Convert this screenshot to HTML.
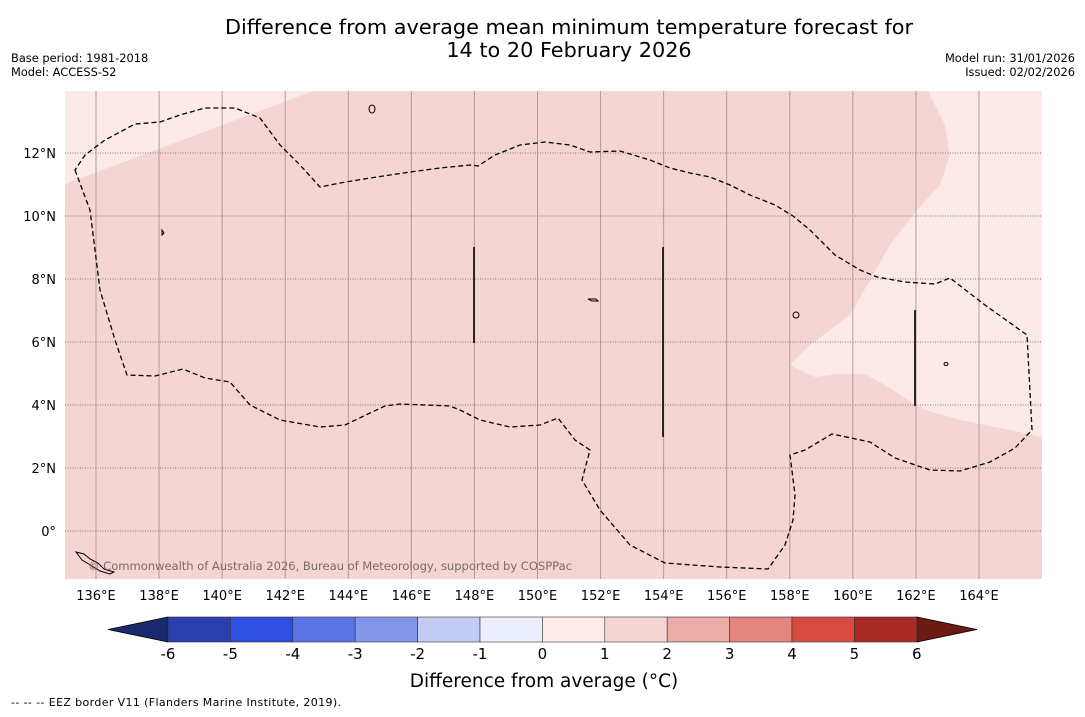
<!DOCTYPE html>
<html><head><meta charset="utf-8"><style>
body{margin:0;background:#fff;font-family:"DejaVu Sans","Liberation Sans",sans-serif}
svg text{font-family:"DejaVu Sans","Liberation Sans",sans-serif}
</style></head><body>
<svg id="c" width="1085" height="713" viewBox="0 0 1085 713">
<text x="569" y="34" text-anchor="middle" font-size="20.8">Difference from average mean minimum temperature forecast for</text>
<text x="569" y="57" text-anchor="middle" font-size="20.8">14 to 20 February 2026</text>
<text x="11" y="62" font-size="11.4">Base period: 1981-2018</text>
<text x="11" y="76" font-size="11.4">Model: ACCESS-S2</text>
<text x="1075" y="62" font-size="11.4" text-anchor="end">Model run: 31/01/2026</text>
<text x="1075" y="76" font-size="11.4" text-anchor="end">Issued: 02/02/2026</text>
<g>
<rect x="65" y="91" width="977" height="488" fill="#f5d5d3"/>
<polygon points="65,91 313,91 65,184" fill="#fbeae8"/>
<polygon points="928,91 945,125 950,155 940,185 915,212 890,245 870,280 850,315 810,345 790,365 815,377 840,374 865,374 885,385 905,398 925,410 960,420 1000,428 1042,437 1042,91" fill="#fbeae8"/>
<g id="grid"></g>
<path d="M75,170 L90,210 95,250 100,290 115,340 127,375 155,376 183,369 205,378 230,382 250,405 280,420 320,427 345,425 370,413 385,406 400,404 450,406 460,410 480,420 510,427 540,425 558,418 575,440 590,450 582,480 600,510 630,545 665,563 720,567 768,569 785,545 793,520 795,495 790,455 805,450 832,434 870,442 895,458 930,470 960,471 990,462 1015,448 1032,430 1027,335 985,305 950,278 935,284 905,282 877,277 860,270 835,255 810,230 793,216 775,205 750,195 730,185 710,177 690,173 670,168 650,160 620,151 590,152 570,145 545,142 520,145 495,155 478,166 470,165 440,168 410,172 370,178 340,183 320,187 300,165 280,145 260,118 235,108 205,108 180,115 160,122 135,124 105,140 85,155 Z" fill="none" stroke="#000" stroke-width="1.3" stroke-dasharray="5,3"/>
<g stroke="#000" stroke-width="1.6">
<line x1="474" y1="247" x2="474" y2="343"/><line x1="663" y1="247" x2="663" y2="437"/><line x1="915" y1="310" x2="915" y2="406"/></g>
<g fill="none" stroke="#000" stroke-width="1">
<path d="M76,552 l8,2 6,5 8,4 6,6 10,3 -4,2 -10,-3 -8,-5 -10,-6z"/>
<ellipse cx="372" cy="109" rx="3" ry="4"/><ellipse cx="796" cy="315" rx="3" ry="3"/><ellipse cx="946" cy="364" rx="2" ry="1.5"/>
<path d="M588,299 l8,0 2,2 -6,0z"/><path d="M162,230 l2,3 -2,2z"/></g>
<text x="88" y="570" font-size="11.6" fill="#7a6a6a" textLength="484">© Commonwealth of Australia 2026, Bureau of Meteorology, supported by COSPPac</text>
</g>
<g id="axes"></g>
<g id="cbar"></g>
<text x="544" y="687" text-anchor="middle" font-size="18.5">Difference from average (°C)</text>
<text x="11" y="706" font-size="11" textLength="330">--  --  -- EEZ border V11 (Flanders Marine Institute, 2019).</text>
</svg>
<script>
const lonTicks=[136,138,140,142,144,146,148,150,152,154,156,158,160,162,164];
const latTicks=[0,2,4,6,8,10,12];
const binEdges=[-6,-5,-4,-3,-2,-1,0,1,2,3,4,5,6];
const binColors=["#2a3fac","#2f4fe0","#5a74e4","#8496ea","#c3cbf5","#eaedfb","#fcebe9","#f5d5d3","#ebada8","#e48680","#d94b40","#a82a25"];
const NS="http://www.w3.org/2000/svg";
const X=l=>96+(l-136)*(979-96)/28, Y=a=>531-a*31.5;
const grid=document.getElementById('grid'),axes=document.getElementById('axes'),cb=document.getElementById('cbar');
function mk(t,a,p){const e=document.createElementNS(NS,t);for(const k in a)e.setAttribute(k,a[k]);p.appendChild(e);return e;}
lonTicks.forEach(l=>{
 const g=mk('line',{x1:X(l),x2:X(l),y1:91,y2:579,stroke:'#b09a9a','stroke-width':1},grid);
 
 
 const t=mk('text',{x:X(l),y:600,'text-anchor':'middle','font-size':13},axes);t.textContent=l+'°E';
 
 
});
latTicks.forEach(a=>{
 const g=mk('line',{x1:65,x2:1042,y1:Y(a),y2:Y(a),stroke:'#8a7a7a','stroke-width':1,'stroke-dasharray':'1,1.5'},grid);
 
 
 const t=mk('text',{x:56,y:Y(a)+5,'text-anchor':'end','font-size':13},axes);t.textContent=a+'°'+(a>0?'N':'');
 
 
});
const C=v=>168+(v+6)*62.4;
const y0=617,y1=642;
let p=mk('polygon',{points:`${C(-6)},${y0} 108,${(y0+y1)/2} ${C(-6)},${y1}`,fill:'#1b2a6e',stroke:'#000','stroke-width':0.8},cb);


p=mk('polygon',{points:`${C(6)},${y0} 977,${(y0+y1)/2} ${C(6)},${y1}`,fill:'#6e1a14',stroke:'#000','stroke-width':0.8},cb);


binColors.forEach((c,i)=>{
 const r=mk('rect',{x:C(binEdges[i]),y:y0,width:C(binEdges[i+1])-C(binEdges[i]),height:y1-y0,fill:c,stroke:'#333','stroke-width':0.6},cb);
 
 
});
binEdges.forEach(v=>{
 const t=mk('text',{x:C(v),y:659,'text-anchor':'middle','font-size':15},cb);t.textContent=v;
 
 
});
</script>
</body></html>
